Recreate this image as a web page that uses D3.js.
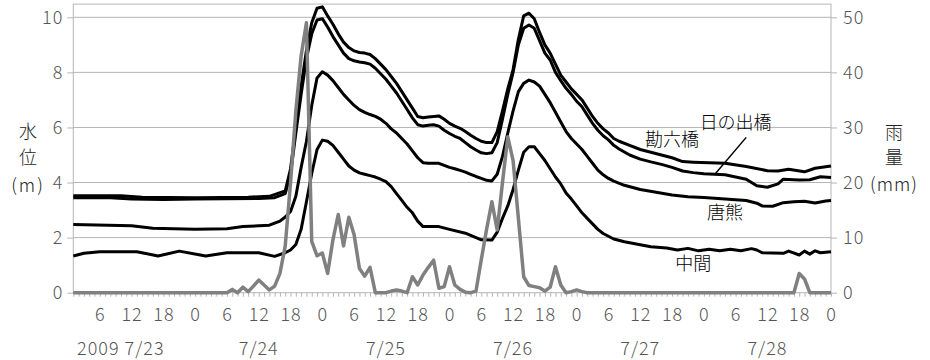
<!DOCTYPE html>
<html>
<head>
<meta charset="utf-8">
<script src="https://cdn.jsdelivr.net/npm/d3@7"></script>
<style>
  body { margin: 0; background: #fff; }
  text { font-family: "Noto Sans CJK JP", "Noto Sans", sans-serif; font-weight: 300; }
</style>
</head>
<body>
<div id="chart"></div>
<script>
// hours are counted from 2009-07-23 00:00
const start = new Date(2009, 6, 23, 0)
const hour = h => d3.timeHour.offset(start, h)

// water level (m), [hour, value]
const kanroku = [
  [1,3.52],[10,3.52],[14,3.47],[24,3.45],[34,3.47],[38,3.5],[41,3.7],[42,4.5],[43,6.0],[44,7.5],
  [45,8.8],[46,9.8],[47,10.33],[48,10.38],[49,10.05],[50,9.75],[51,9.4],[52,9.1],[53,8.9],[54,8.78],
  [55,8.72],[56,8.7],[57,8.65],[58,8.5],[59,8.3],[60,8.1],[61,7.85],[62,7.6],[63,7.3],[64,7.0],
  [65,6.7],[66,6.4],[67,6.35],[68,6.38],[69,6.4],[70,6.42],[71,6.3],[72,6.15],[73,6.05],[74,5.97],
  [75,5.85],[76,5.72],[77,5.6],[78,5.5],[79,5.45],[80,5.45],[81,5.85],[82,6.6],[83,7.4],[84,8.1],
  [85,9.2],[86,10.05],[87,10.15],[88,9.95],[89,9.45],[90,9.0],[91,8.7],[92,8.3],[93,7.9],[94,7.65],
  [95,7.4],[96,7.2],[97,7.0],[98,6.7],[99,6.4],[100,6.15],[101,5.95],[102,5.8],[103,5.6],[104,5.5],
  [106,5.35],[108,5.2],[110,5.1],[112,5.0],[114,4.9],[116,4.76],[118,4.74],[121,4.72],[124,4.7],
  [128,4.58],[132,4.43],[134,4.42],[136,4.48],[139,4.39],[141,4.52],[144,4.6]
]
const hinode = [
  [1,3.45],[8,3.45],[12,3.4],[18,3.38],[24,3.4],[36,3.42],[39,3.45],[41,3.6],[42,4.3],[43,5.8],
  [44,7.2],[45,8.5],[46,9.4],[47,9.9],[48,9.95],[49,9.65],[50,9.3],[51,9.0],[52,8.7],[53,8.5],
  [54,8.42],[55,8.38],[56,8.35],[57,8.3],[58,8.15],[59,7.95],[60,7.75],[61,7.5],[62,7.25],[63,6.95],
  [64,6.65],[65,6.35],[66,6.1],[67,6.05],[68,6.08],[69,6.1],[70,6.05],[71,5.9],[72,5.78],[73,5.68],
  [74,5.6],[75,5.45],[76,5.3],[77,5.18],[78,5.08],[79,5.05],[80,5.08],[81,5.45],[82,6.3],[83,7.2],
  [84,8.0],[85,9.0],[86,9.6],[87,9.72],[88,9.6],[89,9.15],[90,8.7],[91,8.45],[92,8.0],[93,7.7],
  [94,7.42],[95,7.2],[96,6.95],[97,6.75],[98,6.45],[99,6.15],[100,5.9],[101,5.7],[102,5.55],[103,5.35],
  [104,5.22],[106,5.0],[108,4.85],[110,4.75],[112,4.66],[114,4.55],[116,4.42],[118,4.36],[120,4.32],
  [124,4.28],[128,4.12],[130,3.88],[132,3.83],[134,3.95],[135,4.12],[138,4.09],[140,4.1],[142,4.21],[144,4.18]
]
const karakuma = [
  [1,2.48],[12,2.43],[16,2.34],[24,2.3],[30,2.32],[33,2.4],[38,2.45],[40,2.6],[41,2.75],[42,2.95],
  [43,3.5],[44,4.55],[45,5.5],[46,6.8],[47,7.8],[48,8.02],[49,7.9],[50,7.7],[51,7.45],[52,7.2],
  [53,7.0],[54,6.8],[55,6.65],[56,6.55],[57,6.47],[58,6.4],[59,6.3],[60,6.15],[61,5.95],[62,5.8],
  [63,5.6],[64,5.4],[65,5.15],[66,4.9],[67,4.72],[68,4.7],[69,4.7],[70,4.7],[71,4.62],[72,4.55],
  [73,4.5],[74,4.44],[75,4.38],[76,4.3],[77,4.22],[78,4.15],[79,4.08],[80,4.06],[81,4.3],[82,4.95],
  [83,5.8],[84,6.6],[85,7.3],[86,7.6],[87,7.72],[88,7.65],[89,7.5],[90,7.2],[91,6.9],[92,6.55],
  [93,6.2],[94,5.85],[95,5.6],[96,5.4],[97,5.2],[98,4.95],[99,4.7],[100,4.45],[101,4.28],[102,4.15],
  [103,4.05],[105,3.9],[108,3.75],[111,3.65],[114,3.55],[117,3.48],[120,3.46],[124,3.4],[128,3.35],
  [130,3.25],[131,3.15],[133,3.14],[135,3.27],[137,3.3],[139,3.32],[141,3.26],[143,3.33],[144,3.35]
]
const nakama = [
  [1,1.33],[3,1.43],[6,1.49],[13,1.49],[17,1.33],[21,1.51],[26,1.33],[30,1.45],[36,1.45],[39,1.32],
  [41,1.45],[42,1.55],[43,1.75],[44,2.3],[45,3.3],[46,4.33],[47,5.2],[48,5.54],[49,5.5],[50,5.35],
  [51,5.1],[52,4.85],[53,4.6],[54,4.45],[55,4.35],[56,4.3],[57,4.25],[58,4.2],[59,4.12],[60,4.03],
  [61,3.85],[62,3.6],[63,3.35],[64,3.1],[65,2.9],[66,2.6],[67,2.4],[70,2.4],[72,2.3],[75,2.16],
  [77,2.0],[78,1.92],[80,1.91],[81,2.2],[82,2.7],[83,3.15],[84,3.75],[85,4.45],[86,5.1],[87,5.3],
  [88,5.3],[89,5.05],[90,4.8],[91,4.5],[92,4.2],[93,3.95],[94,3.62],[95,3.4],[96,3.15],[97,2.9],
  [98,2.7],[99,2.5],[100,2.3],[101,2.15],[102,2.05],[103,1.95],[105,1.85],[107,1.78],[110,1.67],
  [113,1.62],[115,1.55],[117,1.61],[119,1.52],[121,1.58],[123,1.52],[125,1.58],[127,1.52],[129,1.6],
  [130,1.55],[131,1.45],[135,1.43],[136,1.51],[138,1.37],[139,1.51],[140,1.4],[141,1.52],[142,1.45],[144,1.49]
]

// rainfall (mm), [hour, value]
const rain = [
  [1,0],[30,0],[31,0.6],[32,0],[33,1.0],[34,0.2],[35,1.2],[36,2.3],[37,1.4],[38,0.5],[39,1.2],
  [40,3.5],[41,8.5],[42,20],[43,33],[44,43],[45,49],[46,9.3],[47,6.7],[48,7.2],[49,3.5],[50,9.6],
  [51,14.2],[52,8.5],[53,13.7],[54,10.5],[55,4.4],[56,3.0],[57,4.6],[58,0],[60,0],[61,0.3],[62,0.5],
  [63,0.3],[64,0],[65,2.9],[66,1.4],[67,3.2],[68,4.6],[69,5.9],[70,0.8],[71,1.1],[72,4.7],[73,1.4],
  [74,0.6],[75,0.1],[76,0],[77,0.3],[78,6],[79,11.5],[80,16.5],[81,11.4],[82,20],[83,28.3],[84,24],
  [85,13.5],[86,2.9],[87,1.3],[88,1.1],[89,0.9],[90,0.3],[91,1.0],[92,4.7],[93,1.4],[94,0],[95,0.2],
  [96,0.5],[97,0.2],[98,0],[137,0],[138,3.5],[139,2.5],[140,0],[144,0]
]

const levelTicks = [0, 2, 4, 6, 8, 10]
const rainTicks = [0, 10, 20, 30, 40, 50]
const dayLabels = [[12, '2009 7/23'], [36, '7/24'], [60, '7/25'], [84, '7/26'], [108, '7/27'], [132, '7/28']]

// series labels: [name, hour, level]
const seriesLabels = [['勘六橋', 114, 5.33], ['日の出橋', 126.2, 5.93], ['唐熊', 124.5, 2.66], ['中間', 118.1, 0.82]]

const svg = d3.select('#chart').append('svg')
  .attr('width', 930)
  .attr('height', 360)

const x = d3.scaleTime().domain([hour(1), hour(144)]).range([73.3, 831])
const yL = d3.scaleLinear().domain([0, 10]).range([292.7, 17.3])
const yR = d3.scaleLinear().domain([0, 50]).range([292.7, 17.3])

const gridColor = '#b5b5b5'
const textColor = '#555'

// gridlines
svg.append('g')
  .selectAll('line')
  .data(levelTicks.filter(d => d > 0))
  .enter()
  .append('line')
    .attr('x1', x.range()[0])
    .attr('x2', x.range()[1])
    .attr('y1', d => yL(d))
    .attr('y2', d => yL(d))
    .attr('stroke', gridColor)

// plot frame
svg.append('rect')
  .attr('x', x.range()[0])
  .attr('y', yL(10.48))
  .attr('width', x.range()[1] - x.range()[0])
  .attr('height', yL(0) - yL(10.48))
  .attr('fill', 'none')
  .attr('stroke', gridColor)

// left axis
const leftAxis = svg.append('g')
  .attr('transform', `translate(${x.range()[0]},0)`)
  .call(d3.axisLeft(yL).tickValues(levelTicks).tickSize(6).tickPadding(4))
leftAxis.select('.domain').remove()

// right axis
const rightAxis = svg.append('g')
  .attr('transform', `translate(${x.range()[1]},0)`)
  .call(d3.axisRight(yR).tickValues(rainTicks).tickSize(6).tickPadding(6))
rightAxis.select('.domain').remove()

// hourly minor ticks
const minorAxis = svg.append('g')
  .attr('transform', `translate(0,${yL(0)})`)
  .call(d3.axisBottom(x).ticks(d3.timeHour.every(1)).tickSize(4).tickFormat(''))
minorAxis.select('.domain').remove()

// hour labels every 6 hours
const hourAxis = svg.append('g')
  .attr('transform', `translate(0,${yL(0)})`)
  .call(d3.axisBottom(x).ticks(d3.timeHour.every(6)).tickSize(0).tickPadding(16).tickFormat(d => d.getHours()))
hourAxis.select('.domain').remove()

svg.selectAll('.tick line').attr('stroke', gridColor)
svg.selectAll('.tick text')
  .attr('fill', textColor)
  .style('font-size', '18px')
  .style('letter-spacing', '1px')
  .style('font-family', '"Noto Sans CJK JP", "Noto Sans", sans-serif')
  .style('font-weight', 300)

// day labels
svg.append('g')
  .selectAll('text')
  .data(dayLabels)
  .enter()
  .append('text')
    .attr('x', (d, i) => i === 0 ? x(hour(d[0])) + 33 : x(hour(d[0])))
    .attr('y', 355)
    .attr('text-anchor', (d, i) => i === 0 ? 'end' : 'middle')
    .attr('fill', textColor)
    .style('font-size', '18px')
    .style('letter-spacing', '1px')
    .text(d => d[1])

// axis titles
const leftTitle = [['水', 138], ['位', 164], ['(m)', 192]]
svg.append('g')
  .selectAll('text')
  .data(leftTitle)
  .enter()
  .append('text')
    .attr('x', 28)
    .attr('y', d => d[1])
    .attr('text-anchor', 'middle')
    .attr('fill', '#222')
    .style('font-size', '18px')
    .style('letter-spacing', d => d[0].length > 1 ? '2px' : null)
    .text(d => d[0])

const rightTitle = [['雨', 139], ['量', 164], ['(mm)', 191]]
svg.append('g')
  .selectAll('text')
  .data(rightTitle)
  .enter()
  .append('text')
    .attr('x', 894)
    .attr('y', d => d[1])
    .attr('text-anchor', 'middle')
    .attr('fill', '#222')
    .style('font-size', '18px')
    .style('letter-spacing', d => d[0].length > 1 ? '1px' : null)
    .text(d => d[0])

// lines
const levelLine = d3.line()
  .x(d => x(hour(d[0])))
  .y(d => yL(d[1]))

const rainLine = d3.line()
  .x(d => x(hour(d[0])))
  .y(d => yR(d[1]))

svg.append('g')
  .selectAll('path')
  .data([kanroku, hinode, karakuma, nakama])
  .enter()
  .append('path')
    .attr('d', levelLine)
    .attr('fill', 'none')
    .attr('stroke', '#000')
    .attr('stroke-width', 3)
    .attr('stroke-linejoin', 'round')

svg.append('path')
  .datum(rain)
  .attr('d', rainLine)
  .attr('fill', 'none')
  .attr('stroke', '#808080')
  .attr('stroke-width', 3.5)
  .attr('stroke-linejoin', 'round')

// series labels
svg.append('g')
  .selectAll('text')
  .data(seriesLabels)
  .enter()
  .append('text')
    .attr('x', d => x(hour(d[1])))
    .attr('y', d => yL(d[2]))
    .attr('text-anchor', 'middle')
    .attr('fill', '#000')
    .style('font-size', '18px')
    .text(d => d[0])

// leader line for 日の出橋
svg.append('line')
  .attr('x1', x(hour(128.4)))
  .attr('y1', yL(5.64))
  .attr('x2', x(hour(122.6)))
  .attr('y2', yL(4.28))
  .attr('stroke', '#000')
  .attr('stroke-width', 1.5)
</script>
</body>
</html>
